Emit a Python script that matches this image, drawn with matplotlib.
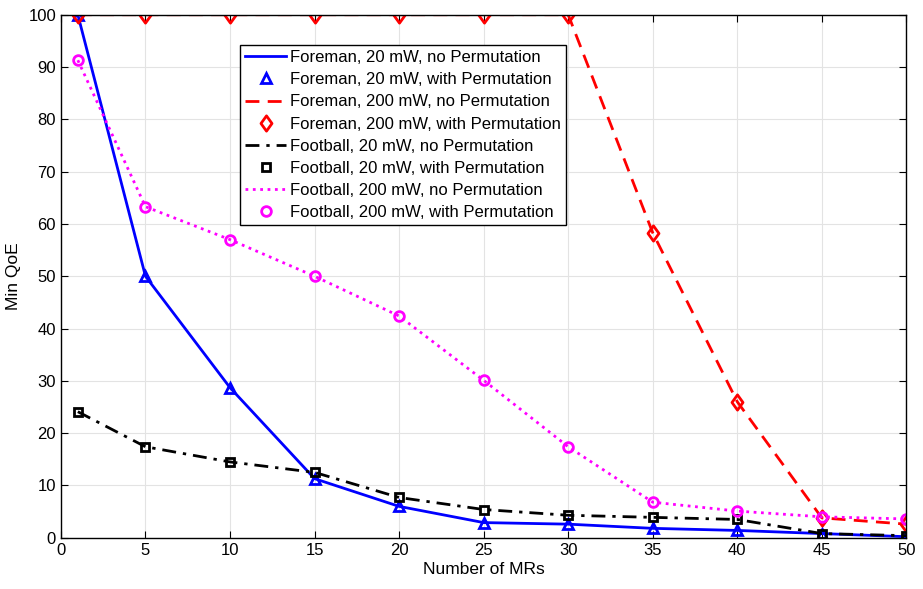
import matplotlib
matplotlib.use("Agg")
import matplotlib.pyplot as plt
from matplotlib.path import Path

plt.rcParams['font.family'] = ['Liberation Sans', 'DejaVu Sans']

mrs = [1, 5, 10, 15, 20, 25, 30, 35, 40, 45, 50]
foreman_20_noperm = [100, 50, 28.7, 11.3, 6.0, 2.9, 2.6, 1.8, 1.4, 0.8, 0.2]
foreman_20_perm = [100, 50, 28.7, 11.3, 6.0, 2.9, 2.6, 1.8, 1.4, 0.8, 0.2]
foreman_200_noperm = [100, 100, 100, 100, 100, 100, 100, 58.3, 26.0, 3.8, 2.6]
foreman_200_perm = [100, 100, 100, 100, 100, 100, 100, 58.3, 26.0, 3.8, 2.6]
football_20_noperm = [24.1, 17.4, 14.5, 12.5, 7.7, 5.4, 4.3, 3.9, 3.5, 0.8, 0.4]
football_20_perm = [24.1, 17.4, 14.5, 12.5, 7.7, 5.4, 4.3, 3.9, 3.5, 0.8, 0.4]
football_200_noperm = [91.3, 63.3, 57.0, 50.0, 42.4, 30.1, 17.4, 6.8, 5.1, 4.0, 3.6]
football_200_perm = [91.3, 63.3, 57.0, 50.0, 42.4, 30.1, 17.4, 6.8, 5.1, 4.0, 3.6]

diamond = Path([(0, 1), (0.72, 0), (0, -1), (-0.72, 0), (0, 1)],
               [Path.MOVETO, Path.LINETO, Path.LINETO, Path.LINETO, Path.CLOSEPOLY])

fig = plt.figure(figsize=(9.23, 5.89), dpi=100)
ax = fig.add_axes([0.066, 0.087, 0.916, 0.888])

lw = 2.0
ms = 7
mew = 2.0
ax.plot(mrs, foreman_20_noperm, '-', color='#0000ff', lw=lw, label='Foreman, 20 mW, no Permutation')
ax.plot(mrs, foreman_20_perm, '^', color='#0000ff', ms=ms, mew=mew, mfc='none', ls='none', label='Foreman, 20 mW, with Permutation')
ax.plot(mrs, foreman_200_noperm, '--', color='#ff0000', lw=lw, dashes=(5, 3), label='Foreman, 200 mW, no Permutation')
ax.plot(mrs, foreman_200_perm, marker=diamond, color='#ff0000', ms=11, mew=mew, mfc='none', ls='none', label='Foreman, 200 mW, with Permutation')
ax.plot(mrs, football_20_noperm, '-.', color='black', lw=lw, dashes=(5, 2.5, 1.2, 2.5), label='Football, 20 mW, no Permutation')
ax.plot(mrs, football_20_perm, 's', color='black', ms=6, mew=mew, mfc='none', ls='none', label='Football, 20 mW, with Permutation')
ax.plot(mrs, football_200_noperm, ':', color='#ff00ff', lw=lw, label='Football, 200 mW, no Permutation')
ax.plot(mrs, football_200_perm, 'o', color='#ff00ff', ms=ms, mew=mew, mfc='none', ls='none', label='Football, 200 mW, with Permutation')

ax.set_xlim(0, 50)
ax.set_ylim(0, 100)
ax.set_xticks(range(0, 51, 5))
ax.set_yticks(range(0, 101, 10))
ax.grid(True, color='#e3e3e3', lw=0.8)
ax.set_axisbelow(True)
ax.tick_params(direction='in', top=True, right=True, labelsize=12, length=5, colors='black')
for s in ax.spines.values():
    s.set_linewidth(1.0)
ax.set_xlabel('Number of MRs', fontsize=12.5, labelpad=3)
ax.set_ylabel('Min QoE', fontsize=12.5, labelpad=5)

leg = ax.legend(loc='upper left', bbox_to_anchor=(0.2115, 0.942), fontsize=12, frameon=True,
                fancybox=False, edgecolor='black', framealpha=1, handlelength=2.5,
                handletextpad=0.2, labelspacing=0.43, borderpad=0.3, borderaxespad=0)
leg.get_frame().set_linewidth(1.0)

fig.savefig('out.png', dpi=100)
